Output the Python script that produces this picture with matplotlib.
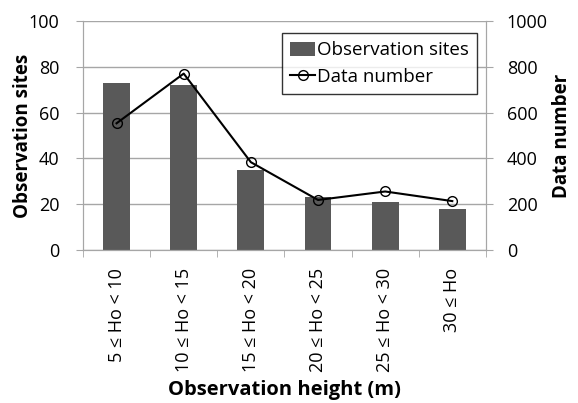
import numpy as np
import matplotlib.pyplot as plt

plt.rcParams['font.family'] = ['Open Sans', 'DejaVu Sans']

# Datos
categorias = ['5 ≤ Ho < 10', '10 ≤ Ho < 15', '15 ≤ Ho < 20',
              '20 ≤ Ho < 25', '25 ≤ Ho < 30', '30 ≤ Ho']
sitios = [73, 72, 35, 23, 21, 18]
num_datos = [553, 770, 383, 218, 255, 213]

gris = '#a6a6a6'
x = np.arange(len(categorias))

fig = plt.figure(figsize=(5.78, 4.03), dpi=100)
ax = fig.add_axes([0.1436, 0.380, 0.697, 0.568])
ax2 = ax.twinx()

barras = ax.bar(x, sitios, width=0.4, color='#595959', label='Observation sites', zorder=2)
linea, = ax2.plot(x, num_datos, color='black', lw=1.5, marker='o', markersize=7,
                  markerfacecolor='none', markeredgecolor='black', markeredgewidth=1,
                  label='Data number', zorder=3)

ax.set_xlim(-0.5, len(categorias) - 0.5)
ax.set_ylim(0, 100)
ax2.set_ylim(0, 1000)
ax.set_yticks(np.arange(0, 101, 20))
ax2.set_yticks(np.arange(0, 1001, 200))
ax.yaxis.grid(True, color=gris, lw=1)
ax.set_axisbelow(True)

ax.set_xticks(x)
ax.set_xticklabels(categorias, rotation=90, fontsize=13)
ax.set_xticks(np.arange(-0.5, len(categorias)), minor=True)
ax.tick_params(axis='x', which='major', length=0, pad=13)
ax.tick_params(axis='x', which='minor', length=5, color=gris, direction='out')
ax.tick_params(axis='y', labelsize=13, length=5, color=gris, pad=12)
ax2.tick_params(axis='y', labelsize=13, length=5, color=gris, pad=10)

for a in (ax, ax2):
    a.spines['top'].set_visible(False)
    for s in ('left', 'right', 'bottom'):
        a.spines[s].set_color(gris)

ax.set_ylabel('Observation sites', fontsize=13.5, fontweight='bold', labelpad=-3)
ax2.set_ylabel('Data number', fontsize=13.5, fontweight='bold', labelpad=3)
ax.set_xlabel('Observation height (m)', fontsize=14.5, fontweight='bold', labelpad=6)

leg = ax2.legend([barras, linea], ['Observation sites', 'Data number'],
                 loc='upper right', bbox_to_anchor=(0.978, 0.948), borderaxespad=0,
                 fontsize=13.5, frameon=True, fancybox=False, edgecolor='black',
                 handlelength=1.3, handleheight=0.8, handletextpad=0.1,
                 borderpad=0.45, labelspacing=0.45)
leg.get_frame().set_linewidth(1)

fig.savefig('out.png', dpi=100)
